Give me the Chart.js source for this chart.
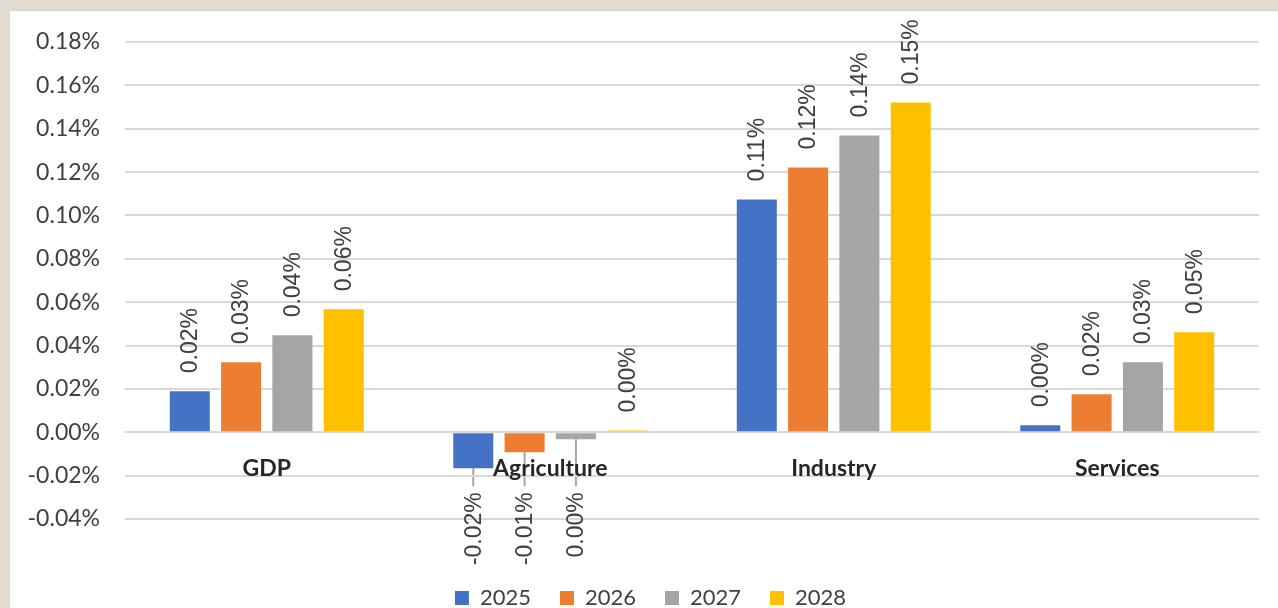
<!DOCTYPE html>
<html>
<head>
<meta charset="utf-8">
<script src="https://cdn.jsdelivr.net/npm/chart.js@4.4.1/dist/chart.umd.min.js"></script>
<style>
  html, body { margin: 0; padding: 0; width: 1278px; height: 608px; overflow: hidden; background: #e1dbd2; }
  #panel { position: absolute; left: 9px; top: 10px; width: 1268px; height: 597px; background: #fff;
           border-top: 1px solid #d6d6d6; border-left: 1px solid #d6d6d6; overflow: hidden; }
  canvas { display: block; }
</style>
</head>
<body>
<div id="panel"><canvas id="myChart" width="1268" height="608"></canvas></div>
<script>
const categories = ['GDP', 'Agriculture', 'Industry', 'Services'];
const years = ['2025', '2026', '2027', '2028'];
const colors = ['#4472C4', '#ED7D31', '#A5A5A5', '#FFC000'];

// values in percent
const values2025 = [0.0189, -0.0166, 0.1074, 0.0032];
const values2026 = [0.0323, -0.0092, 0.1221, 0.0175];
const values2027 = [0.0447, -0.0032, 0.1369, 0.0323];
const values2028 = [0.0567, 0.0008, 0.1521, 0.0461];
const seriesValues = [values2025, values2026, values2027, values2028];

const yMin = -0.04;
const yMax = 0.18;
const yStep = 0.02;

const fmtPct = (v) => {
    let s = v.toFixed(2);
    if (parseFloat(s) === 0) s = '0.00';
    return s + '%';
};

// data labels, rotated, with leader lines for the negative ones
const barLabels = {
    id: 'barLabels',
    afterLayout(chart) {
        // legend sits a bit right of the canvas centre
        chart.legend.left += 16;
        chart.legend.right += 16;
    },
    beforeDraw(chart) {
        const ctx = chart.ctx;
        const zeroY = chart.scales.y.getPixelForValue(0);
        ctx.save();
        ctx.strokeStyle = '#a6a6a6';
        ctx.lineWidth = 2;
        chart.data.datasets.forEach((ds, i) => {
            chart.getDatasetMeta(i).data.forEach((bar, j) => {
                if (ds.data[j] >= 0) return;
                ctx.beginPath();
                ctx.moveTo(bar.x, bar.y);
                ctx.lineTo(bar.x, zeroY + 54);
                ctx.stroke();
            });
        });
        ctx.restore();
    },
    afterDatasetsDraw(chart) {
        const ctx = chart.ctx;
        const zeroY = chart.scales.y.getPixelForValue(0);
        ctx.save();
        ctx.font = '23px "Liberation Sans"';
        ctx.fillStyle = '#404040';
        ctx.textBaseline = 'middle';
        chart.data.datasets.forEach((ds, i) => {
            chart.getDatasetMeta(i).data.forEach((bar, j) => {
                const v = ds.data[j];
                ctx.save();
                if (v >= 0) {
                    ctx.translate(bar.x + 1, bar.y - 18);
                    ctx.rotate(-Math.PI / 2);
                    ctx.textAlign = 'left';
                } else {
                    ctx.translate(bar.x + 1, zeroY + 60);
                    ctx.rotate(-Math.PI / 2);
                    ctx.textAlign = 'right';
                }
                ctx.fillText(fmtPct(v), 0, 0);
                ctx.restore();
            });
        });
        ctx.restore();
    }
};

const ctx = document.getElementById('myChart').getContext('2d');

const chart = new Chart(ctx, {
    type: 'bar',
    data: {
        labels: categories,
        datasets: years.map((y, i) => ({
            label: y,
            data: seriesValues[i],
            backgroundColor: colors[i],
            borderWidth: 0,
            categoryPercentage: 0.724,
            barPercentage: 0.78
        }))
    },
    options: {
        responsive: false,
        animation: false,
        layout: {
            padding: { top: 31, right: 19, left: 0, bottom: 0 }
        },
        plugins: {
            tooltip: { enabled: false },
            legend: {
                position: 'bottom',
                title: {
                    display: true,
                    text: ' ',
                    padding: { top: 27, bottom: 0 },
                    font: { size: 10 }
                },
                labels: {
                    boxWidth: 14,
                    boxHeight: 14,
                    padding: 29,
                    color: '#404040',
                    font: { family: 'Lato', size: 22 }
                }
            }
        },
        scales: {
            x: {
                position: { y: 0 },
                grid: { display: false, drawTicks: false },
                border: { display: false },
                afterFit(scale) { scale.paddingTop = 0; scale.paddingBottom = 0; },
                ticks: {
                    padding: 23,
                    color: '#262626',
                    font: { family: 'Lato', size: 23, weight: 'bold' }
                }
            },
            y: {
                min: yMin,
                max: yMax,
                afterFit(scale) { scale.width = 115; scale.paddingTop = 0; scale.paddingBottom = 0; },
                border: { display: false },
                grid: { color: '#d9d9d9', lineWidth: 2, drawTicks: false },
                ticks: {
                    stepSize: yStep,
                    padding: 25,
                    color: '#404040',
                    font: { family: 'Lato', size: 23 },
                    callback: (v) => v.toFixed(2) + '%'
                }
            }
        }
    },
    plugins: [barLabels]
});
</script>
</body>
</html>
